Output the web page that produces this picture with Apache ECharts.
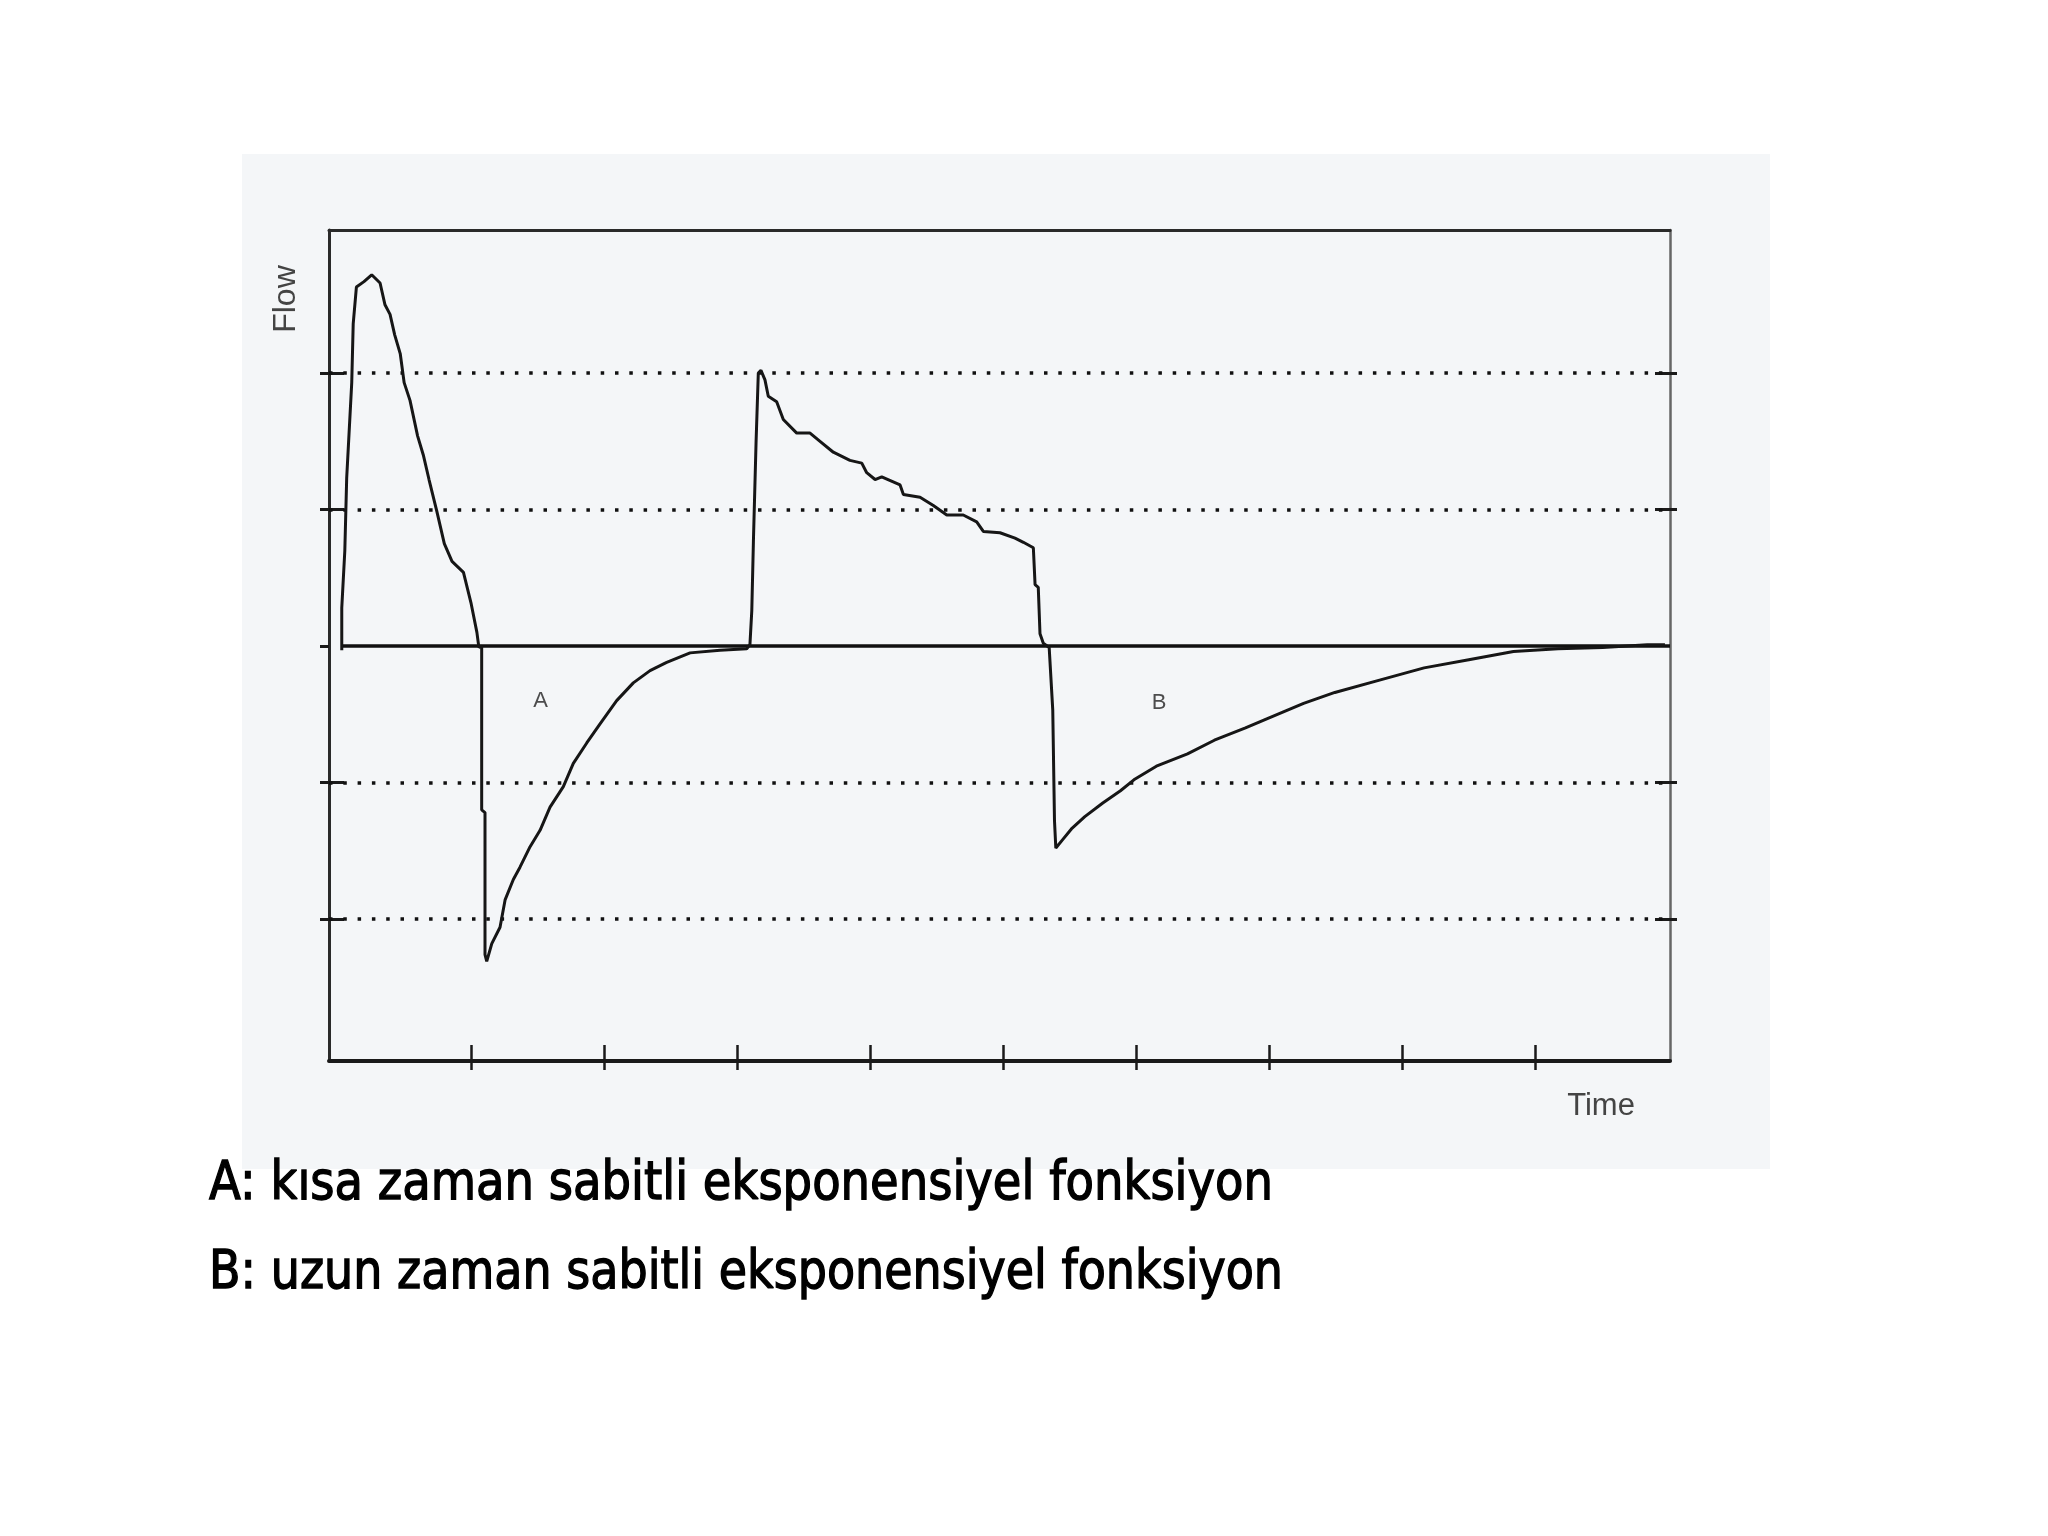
<!DOCTYPE html>
<html>
<head>
<meta charset="utf-8">
<title>Flow / Time</title>
<script src="https://cdn.jsdelivr.net/npm/echarts@6.0.0/dist/echarts.min.js"></script>
<style>
  html, body { margin: 0; padding: 0; background: #ffffff; }
  #chart { width: 2048px; height: 1536px; }
</style>
</head>
<body>
<div id="chart"></div>
<script>
// first breath, inspiration (time units = tick spacing, flow units = gridline spacing)
const insp1Time = [0.025, 0.025, 0.048, 0.062, 0.100, 0.111, 0.135, 0.192, 0.250, 0.313, 0.350, 0.388, 0.423, 0.465, 0.494, 0.538, 0.595, 0.638, 0.681, 0.739, 0.796, 0.854, 0.940, 0.998, 1.041, 1.056];
const insp1Flow = [-0.03, 0.28, 0.70, 1.23, 1.93, 2.36, 2.63, 2.67, 2.72, 2.66, 2.50, 2.43, 2.28, 2.14, 1.93, 1.80, 1.54, 1.40, 1.22, 0.99, 0.75, 0.62, 0.54, 0.31, 0.10, -0.01];

// expiration A (short time constant)
const expATime = [1.077, 1.077, 1.102, 1.102, 1.115, 1.153, 1.215, 1.253, 1.315, 1.365, 1.441, 1.516, 1.591, 1.691, 1.766, 1.867, 1.967, 2.092, 2.217, 2.343, 2.468, 2.644, 2.869, 3.070];
const expAFlow = [0.00, -1.20, -1.22, -2.26, -2.31, -2.18, -2.06, -1.86, -1.71, -1.62, -1.47, -1.35, -1.18, -1.03, -0.86, -0.71, -0.57, -0.40, -0.27, -0.18, -0.12, -0.05, -0.03, -0.02];

// second breath, inspiration
const insp2Time = [3.094, 3.108, 3.120, 3.140, 3.157, 3.177, 3.207, 3.232, 3.295, 3.345, 3.446, 3.546, 3.621, 3.721, 3.846, 3.935, 3.972, 4.035, 4.085, 4.223, 4.248, 4.373, 4.473, 4.574, 4.698, 4.799, 4.849, 4.974, 5.087, 5.150, 5.225, 5.238, 5.262, 5.275, 5.300];
const insp2Flow = [0.01, 0.26, 0.76, 1.49, 2.00, 2.02, 1.95, 1.83, 1.79, 1.66, 1.56, 1.56, 1.50, 1.42, 1.36, 1.34, 1.27, 1.22, 1.24, 1.18, 1.11, 1.09, 1.03, 0.96, 0.96, 0.91, 0.84, 0.83, 0.79, 0.76, 0.72, 0.45, 0.43, 0.09, 0.02];

// expiration B (long time constant)
const expBTime = [5.310, 5.344, 5.371, 5.384, 5.394, 5.444, 5.511, 5.612, 5.747, 5.880, 5.981, 6.150, 6.384, 6.586, 6.820, 6.989, 7.257, 7.492, 7.828, 8.163, 8.499, 8.835, 9.170, 9.506, 9.841, 9.974];
const expBFlow = [0.01, -0.01, -0.47, -1.28, -1.48, -1.42, -1.34, -1.25, -1.15, -1.06, -0.98, -0.88, -0.79, -0.69, -0.60, -0.53, -0.42, -0.34, -0.25, -0.16, -0.10, -0.04, -0.02, -0.01, 0.01, 0.01];

const timeTicks = [1, 2, 3, 4, 5, 6, 7, 8, 9];
const flowTicks = [-2, -1, 1, 2];
const gridFlows = [-2, -1, 1, 2];

const curveNames = ["A", "B"];
const curveNameTime = [1.52, 6.17];
const curveNameFlow = [-0.40, -0.42];

const captions = [
  "A: kısa zaman sabitli eksponensiyel fonksiyon",
  "B: uzun zaman sabitli eksponensiyel fonksiyon",
];

function zip(xs, ys) {
  return xs.map((x, i) => [x, ys[i]]);
}

const flowData = [].concat(
  zip(insp1Time, insp1Flow),
  zip(expATime, expAFlow),
  zip(insp2Time, insp2Flow),
  zip(expBTime, expBFlow)
);

// squeeze caption text to the width it has in the picture
function fitScale(text, font, target) {
  const ctx = document.createElement("canvas").getContext("2d");
  ctx.font = font;
  return target / ctx.measureText(text).width;
}

const capFont = '53px "DejaVu Sans", sans-serif';
const capScaleA = fitScale(captions[0], capFont, 1064);
const capScaleB = fitScale(captions[1], capFont, 1074);

const X_MIN = -0.071, X_MAX = 10.012;
const Y_MIN = -3.04, Y_MAX = 3.048;
const ink = "#1a1a1a";

const chart = echarts.init(document.getElementById("chart"), null, { renderer: "canvas" });

const baseX = { type: "value", min: X_MIN, max: X_MAX, splitLine: { show: false }, axisLabel: { show: false } };
const baseY = { type: "value", min: Y_MIN, max: Y_MAX, splitLine: { show: false }, axisLabel: { show: false } };

const option = {
  animation: false,
  backgroundColor: "#ffffff",
  grid: { left: 329, right: 378, top: 230, bottom: 475 },
  graphic: [
    {
      type: "rect", z: -10, silent: true,
      shape: { x: 242, y: 154, width: 1528, height: 1015 },
      style: { fill: "#f4f6f8" },
    },
    {
      type: "text", x: 286, y: 299, rotation: Math.PI / 2, silent: true,
      style: { text: "Flow", font: '32px "Liberation Sans", Arial, sans-serif', fill: "#444", align: "center", verticalAlign: "middle" },
    },
    {
      type: "text", x: 1601, y: 1106, silent: true,
      style: { text: "Time", font: '31px "Liberation Sans", Arial, sans-serif', fill: "#444", align: "center", verticalAlign: "middle" },
    },
    {
      type: "text", x: 209, y: 1185, scaleX: capScaleA, silent: true,
      style: { text: captions[0], font: capFont, fill: "#000", stroke: "#000", lineWidth: 1.4, align: "left", verticalAlign: "middle" },
    },
    {
      type: "text", x: 209, y: 1274, scaleX: capScaleB, silent: true,
      style: { text: captions[1], font: capFont, fill: "#000", stroke: "#000", lineWidth: 1.4, align: "left", verticalAlign: "middle" },
    },
  ],
  xAxis: [
    Object.assign({}, baseX, {
      position: "bottom",
      axisLine: { show: true, onZero: false, lineStyle: { color: ink, width: 4 } },
      axisTick: { show: true, inside: false, length: 9, customValues: timeTicks, lineStyle: { color: ink, width: 2.5 } },
    }),
    Object.assign({}, baseX, {
      position: "bottom",
      axisLine: { show: false, onZero: false },
      axisTick: { show: true, inside: true, length: 16, customValues: timeTicks, lineStyle: { color: ink, width: 2.5 } },
    }),
    Object.assign({}, baseX, {
      position: "top",
      axisLine: { show: true, onZero: false, lineStyle: { color: "#2a2a2a", width: 3 } },
      axisTick: { show: false },
    }),
  ],
  yAxis: [
    Object.assign({}, baseY, {
      position: "left",
      axisLine: { show: true, onZero: false, lineStyle: { color: "#2a2a2a", width: 3 } },
      axisTick: { show: true, inside: false, length: 9, customValues: [-2, -1, 0, 1, 2], lineStyle: { color: ink, width: 3 } },
    }),
    Object.assign({}, baseY, {
      position: "left",
      axisLine: { show: false, onZero: false },
      axisTick: { show: true, inside: true, length: 15, customValues: flowTicks, lineStyle: { color: ink, width: 3 } },
    }),
    Object.assign({}, baseY, {
      position: "right",
      axisLine: { show: true, onZero: false, lineStyle: { color: "#666", width: 2.5 } },
      axisTick: { show: true, inside: false, length: 7, customValues: flowTicks, lineStyle: { color: ink, width: 3 } },
    }),
    Object.assign({}, baseY, {
      position: "right",
      axisLine: { show: false, onZero: false },
      axisTick: { show: true, inside: true, length: 15, customValues: flowTicks, lineStyle: { color: ink, width: 3 } },
    }),
  ],
  series: [
    {
      name: "Flow",
      type: "line",
      xAxisIndex: 0,
      yAxisIndex: 0,
      data: flowData,
      showSymbol: false,
      symbol: "none",
      lineStyle: { color: "#161616", width: 3 },
      z: 5,
      markLine: {
        silent: true,
        symbol: "none",
        label: { show: false },
        data: gridFlows.map((v) => ({
          yAxis: v,
          lineStyle: { color: "#111", width: 3.5, type: [3.5, 10.8] },
        })).concat([
          [
            { coord: [0.03, 0], lineStyle: { color: "#111", width: 3.5, type: "solid" } },
            { coord: [X_MAX, 0] },
          ],
        ]),
      },
    },
    {
      name: "labels",
      type: "scatter",
      xAxisIndex: 0,
      yAxisIndex: 0,
      symbolSize: 0,
      silent: true,
      data: curveNames.map((n, i) => ({ name: n, value: [curveNameTime[i], curveNameFlow[i]] })),
      label: {
        show: true,
        position: "inside",
        formatter: "{b}",
        color: "#222",
        fontSize: 22,
        fontFamily: '"Liberation Sans", Arial, sans-serif',
      },
    },
  ],
};

chart.setOption(option);
</script>
</body>
</html>
